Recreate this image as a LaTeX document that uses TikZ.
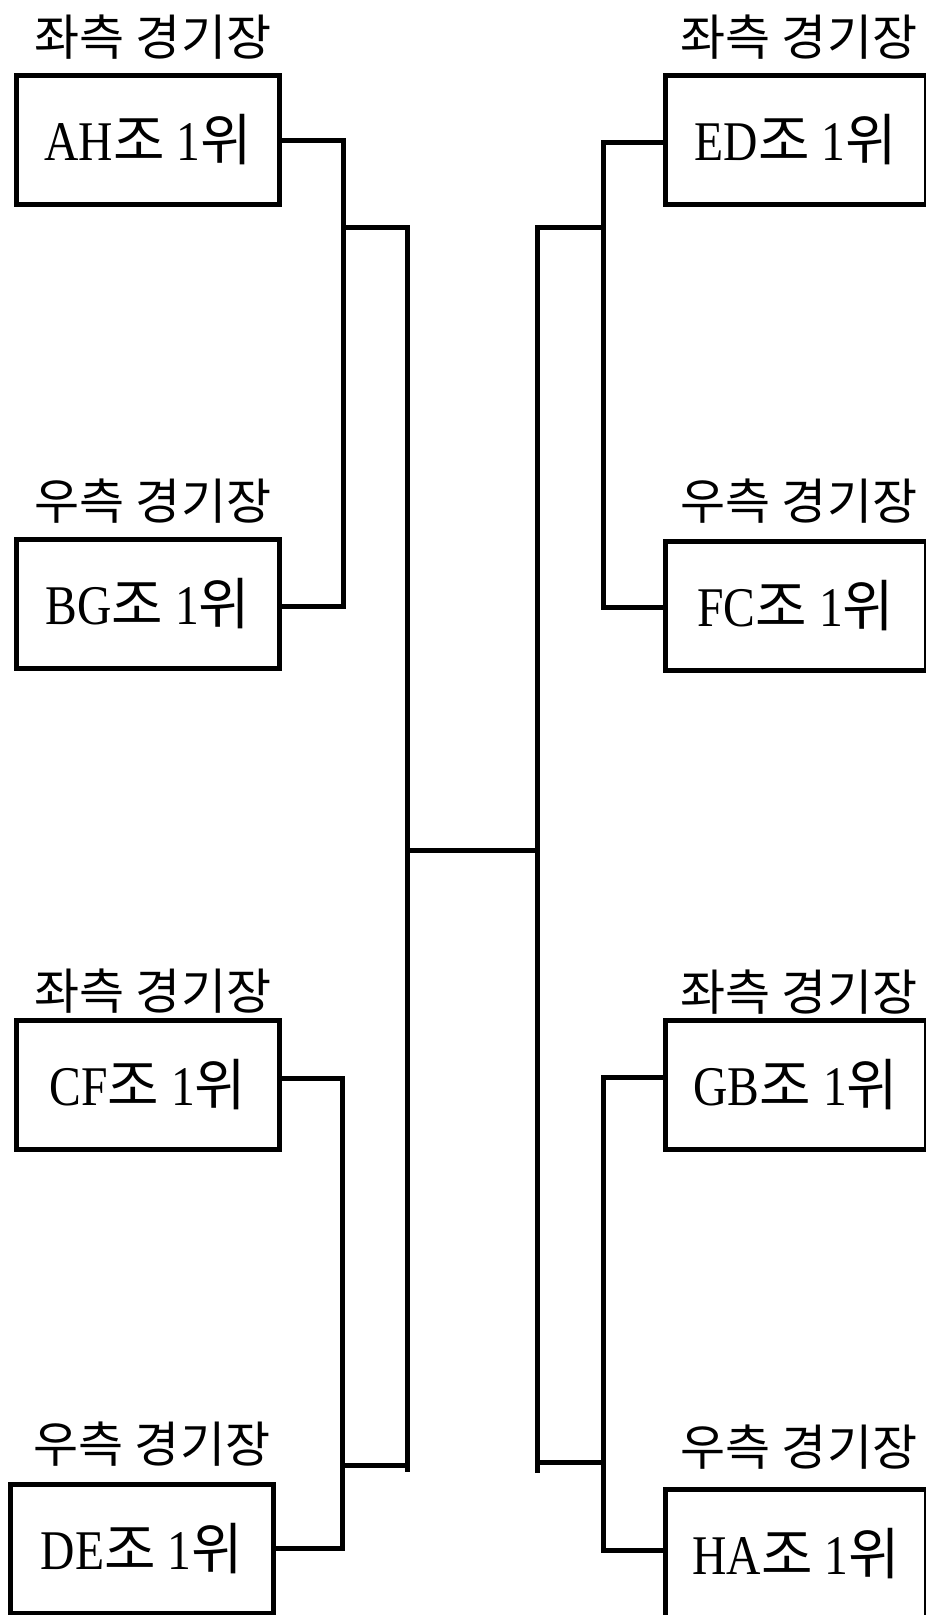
\documentclass[tikz,border=0pt]{standalone}
\usepackage{fontspec}
\setmainfont[FakeStretch=0.85]{Liberation Serif}
\newfontfamily\kr{Noto Sans CJK KR}
\begin{document}
\begin{tikzpicture}[x=1pt,y=-1pt,
  team/.style={draw,line width=5pt,minimum height=129pt,inner sep=0pt,
    font=\fontsize{56}{60}\selectfont},
  leftteam/.style={team,minimum width=263pt},
  rightteam/.style={team,minimum width=261pt},
  venue/.style={inner sep=0pt,font=\kr\fontsize{49}{52}\selectfont},
  link/.style={line width=5pt,line cap=rect}]
\useasboundingbox (0,0) rectangle (926,1615);
\clip (0,0) rectangle (926,1615);

% headings
\node[venue] (hAH) at (153,37) {좌측 경기장};
\node[venue] (hBG) at (153,501) {우측 경기장};
\node[venue] (hCF) at (153,991) {좌측 경기장};
\node[venue] (hDE) at (152,1444) {우측 경기장};
\node[venue] (hED) at (799,37) {좌측 경기장};
\node[venue] (hFC) at (799,501) {우측 경기장};
\node[venue] (hGB) at (799,992) {좌측 경기장};
\node[venue] (hHA) at (799,1447) {우측 경기장};

% team boxes
\node[leftteam] (AH) at (148,140) {AH{\kr 조} 1{\kr 위}};
\node[leftteam] (BG) at (148,603.5) {BG{\kr 조} 1{\kr 위}};
\node[leftteam] (CF) at (148,1085) {CF{\kr 조} 1{\kr 위}};
\node[leftteam] (DE) at (142,1549) {DE{\kr 조} 1{\kr 위}};
\node[rightteam] (ED) at (796,140) {ED{\kr 조} 1{\kr 위}};
\node[rightteam] (FC) at (796,605.5) {FC{\kr 조} 1{\kr 위}};
\node[rightteam] (GB) at (796,1085) {GB{\kr 조} 1{\kr 위}};
\node[rightteam] (HA) at (796,1554) {HA{\kr 조} 1{\kr 위}};

% junctions, left
\coordinate (jAH) at (343.5,140);
\coordinate (jBG) at (343.5,606);
\coordinate (m1) at (343.5,227);
\coordinate (L1) at (407,227);
\coordinate (jCF) at (342,1078);
\coordinate (jDE) at (342,1548);
\coordinate (m2) at (342,1465);
\coordinate (L2) at (407,1465);
\coordinate (L3) at (407,1469);
% junctions, right
\coordinate (jED) at (603,142);
\coordinate (jFC) at (603,607);
\coordinate (m3) at (603,227);
\coordinate (R1) at (537,227);
\coordinate (jGB) at (603,1077);
\coordinate (jHA) at (603,1550);
\coordinate (m4) at (603,1462);
\coordinate (R2) at (537,1462);
\coordinate (R3) at (537,1470);
% final
\coordinate (C1) at (407,850);
\coordinate (C2) at (537,850);

% connectors
\draw[link] (AH.east |- jAH) -- (jAH) -- (jBG) -- (BG.east |- jBG);
\draw[link] (CF.east |- jCF) -- (jCF) -- (jDE) -- (DE.east |- jDE);
\draw[link] (m1) -- (L1) -- (L3);
\draw[link] (m2) -- (L2);
\draw[link] (ED.west |- jED) -- (jED) -- (jFC) -- (FC.west |- jFC);
\draw[link] (GB.west |- jGB) -- (jGB) -- (jHA) -- (HA.west |- jHA);
\draw[link] (m3) -- (R1) -- (R3);
\draw[link] (m4) -- (R2);
\draw[link] (C1) -- (C2);
\end{tikzpicture}
\end{document}
